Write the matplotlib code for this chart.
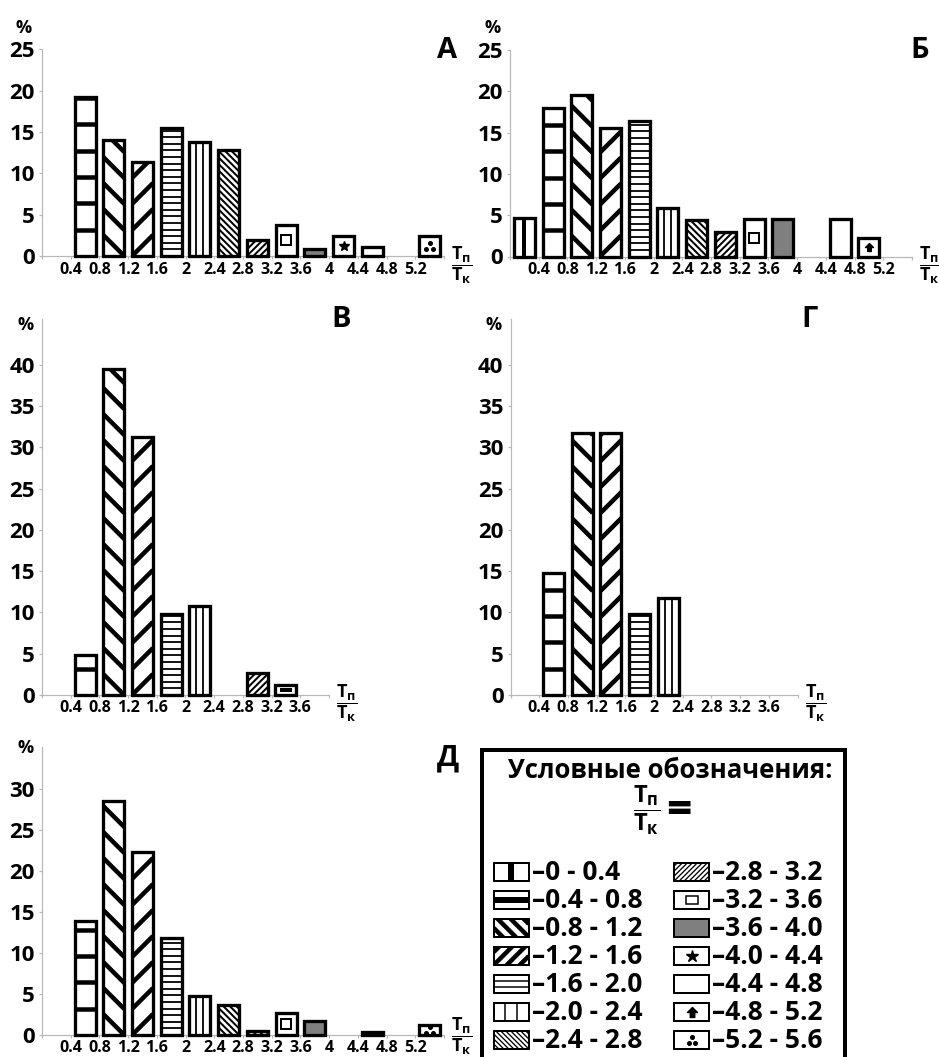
import matplotlib
matplotlib.use('Agg')
import matplotlib.pyplot as plt
from matplotlib.patches import Rectangle
from matplotlib.lines import Line2D
from matplotlib.path import Path
import numpy as np

plt.rcParams['font.family'] = ['Open Sans', 'DejaVu Sans']
plt.rcParams['font.weight'] = 'bold'
plt.rcParams['mathtext.fontset'] = 'custom'
plt.rcParams['mathtext.rm'] = 'Open Sans:bold'
plt.rcParams['mathtext.it'] = 'Open Sans:bold'
plt.rcParams['mathtext.bf'] = 'Open Sans:bold'

W, H = 939, 1057
PT = 0.72  # 1 px в пунктах при dpi=100

# интервалы Tп/Tк
ranges = ['0 - 0.4', '0.4 - 0.8', '0.8 - 1.2', '1.2 - 1.6', '1.6 - 2.0', '2.0 - 2.4', '2.4 - 2.8',
          '2.8 - 3.2', '3.2 - 3.6', '3.6 - 4.0', '4.0 - 4.4', '4.4 - 4.8', '4.8 - 5.2', '5.2 - 5.6']
tick_labels = ['0.4', '0.8', '1.2', '1.6', '2', '2.4', '2.8', '3.2', '3.6', '4', '4.4', '4.8', '5.2']

# доли, %
vals_a = [0, 19.2, 14.0, 11.4, 15.5, 13.8, 12.8, 1.9, 3.8, 0.9, 2.4, 1.1, 0, 2.4]
vals_b = [4.7, 18.0, 19.6, 15.5, 16.4, 5.9, 4.4, 3.0, 4.5, 4.5, 0, 4.5, 2.3, 0]
vals_v = [0, 4.9, 39.5, 31.3, 9.8, 10.8, 0, 2.7, 1.2, 0]
vals_g = [0, 14.8, 31.7, 31.7, 9.8, 11.7, 0, 0, 0, 0]
vals_d = [0, 13.9, 28.5, 22.3, 11.8, 4.7, 3.7, 0.5, 2.7, 1.7, 0, 0.4, 0, 1.2]

# штриховка каждого интервала
patterns = ['vbar', 'hthick', 'dthick_b', 'dthick_f', 'hthin', 'vthin', 'dthin_b', 'dthin_f',
            'square', 'gray', 'star', 'none', 'arrow', 'dots']

ARROW = Path([(0, 1), (1, 0), (0.45, 0), (0.45, -1), (-0.45, -1), (-0.45, 0), (-1, 0), (0, 1)],
             [Path.MOVETO] + [Path.LINETO] * 6 + [Path.CLOSEPOLY])

fig = plt.figure(figsize=(W / 100, H / 100), dpi=100)


def ftext(x, y, s, **kw):
    fig.text(x / W, 1 - y / H, s, **kw)


def pattern(ax, kind, x0, y0, w, h, sx, sy, clip, small=False):
    # sx, sy - единиц данных на 1 px
    wp, hp = w / sx, h / sy

    def line(us, vs, lw):
        ln = Line2D([x0 + u * sx for u in us], [y0 + v * sy for v in vs],
                    color='black', lw=lw * PT, solid_capstyle='butt', zorder=3)
        ax.add_line(ln)
        ln.set_clip_path(clip)   # после add_line, иначе axes перезапишет

    def mark(du, dv, **kw):
        ln = Line2D([x0 + (wp / 2 + du) * sx], [y0 + (hp / 2 + dv) * sy], ls='none',
                    color='black', mfc='black', mec='black', zorder=3, **kw)
        ax.add_line(ln)
        ln.set_clip_path(clip)

    if kind == 'vbar':
        line([wp / 2, wp / 2], [-5, hp + 5], 6 if small else 4)
    elif kind == 'hthick':
        levels = [hp / 2] if small else np.arange(26.3, hp, 26.3)
        for v in levels:
            line([-5, wp + 5], [v, v], 6 if small else 4.5)
    elif kind.startswith('dth'):
        thick = 'thick' in kind
        if thick:
            s, lw = (13 if small else 26), 4.5
        else:
            s, lw = (5 if small else 6.5), (1.3 if small else 2)
        for k in range(-int(wp / s) - 2, int(hp / s) + 3):
            if kind.endswith('_b'):
                line([0, wp], [k * s + wp, k * s], lw)
            else:
                line([0, wp], [k * s, k * s + wp], lw)
    elif kind == 'hthin':
        levels = [hp / 3, 2 * hp / 3] if small else np.arange(6.6, hp, 6.6)
        for v in levels:
            line([-5, wp + 5], [v, v], 1.5 if small else 1.8)
    elif kind == 'vthin':
        for u in (wp / 3, 2 * wp / 3):
            line([u, u], [-5, hp + 5], 1.5 if small else 1.8)
    elif kind == 'square':
        qw, qh = (12, 8) if small else (10, max(2, min(10, hp - 8)))
        r = Rectangle((x0 + (wp - qw) / 2 * sx, y0 + (hp - qh) / 2 * sy), qw * sx, qh * sy,
                      fill=False, ec='black', lw=(1.5 if small else 2) * PT, zorder=3)
        ax.add_patch(r)
        r.set_clip_path(clip)
    elif kind == 'star':
        mark(0, 0, marker='*', ms=(12 if small else 10) * PT)
    elif kind == 'arrow':
        mark(0, 0, marker=ARROW, ms=(10 if small else 8) * PT)
    elif kind == 'dots':
        for du, dv in ((0, 2.7), (-3.2, -2.7), (3.2, -2.7)):
            mark(du, dv, marker='o', ms=3.6 * PT)


def panel(box, n, ymax, yticks, vals, letter, letter_pos, pct_pos, frac_dy=9):
    left, right, bottom, top = box
    ax = fig.add_axes([left / W, 1 - bottom / H, (right - left) / W, (bottom - top) / H])
    ax.set_xlim(0, n)
    ax.set_ylim(0, ymax)
    sx = n / (right - left)
    sy = ymax / (bottom - top)

    idx = [i for i in range(n) if vals[i] > 0]
    xs = [i + 0.5 for i in idx]
    hs = [vals[i] for i in idx]
    faces = ['#7f7f7f' if patterns[i] == 'gray' else 'white' for i in idx]
    bw = 0.73
    bars = ax.bar(xs, hs, width=bw, color=faces, edgecolor='none', zorder=2)
    for i, p in zip(idx, bars.patches):
        pattern(ax, patterns[i], i + 0.5 - bw / 2, 0, bw, vals[i], sx, sy, p)
    ax.bar(xs, hs, width=bw, fill=False, edgecolor='black', lw=3.3 * PT, zorder=4, clip_on=False)

    for s in ['top', 'right']:
        ax.spines[s].set_visible(False)
    for s in ['left', 'bottom']:
        ax.spines[s].set_color('#b8b8b8')
        ax.spines[s].set_linewidth(1.2 * PT)
    ax.set_xticks(np.arange(0, n + 1))
    ax.set_xticklabels([''] + tick_labels[:n - 1] + [''])
    ax.set_yticks(yticks)
    ax.tick_params(axis='x', length=3 * PT, width=1.2 * PT, color='#b8b8b8', pad=2.5 * PT, labelsize=11.5)
    ax.tick_params(axis='y', length=3 * PT, width=1.2 * PT, color='#b8b8b8', pad=4 * PT, labelsize=16)
    ax.patch.set_visible(False)

    ftext(right + 18, bottom + frac_dy, r'$\dfrac{T_п}{T_к}$', fontsize=13, ha='center', va='center')
    ftext(pct_pos[0], pct_pos[1], '%', fontsize=13, ha='center', va='baseline')
    ftext(letter_pos[0], letter_pos[1], letter, fontsize=21, ha='center', va='baseline')
    return ax


panel((42, 444, 256, 49.3), 14, 25, range(0, 26, 5), vals_a, 'А', (447.5, 58), (24, 33))
panel((510, 912, 256.5, 50), 14, 25, range(0, 26, 5), vals_b, 'Б', (920, 58), (493, 33))
panel((42, 329, 695, 318.5), 10, 45.6, range(0, 41, 5), vals_v, 'В', (341, 327), (26, 330), 8)
panel((510.5, 797.5, 695, 318.5), 10, 45.6, range(0, 41, 5), vals_g, 'Г', (810, 327), (494, 330), 8)
panel((42, 444, 1035, 746.5), 14, 35.2, range(0, 31, 5), vals_d, 'Д', (448, 765), (26, 753), 1)

# условные обозначения
lax = fig.add_axes([0, 0, 1, 1])
lax.set_xlim(0, W)
lax.set_ylim(0, H)
lax.axis('off')
lax.add_patch(Rectangle((482, -10), 845 - 482, H - 750 + 10, fill=False, ec='black', lw=4 * PT))
ftext(670, 778, 'Условные обозначения:', fontsize=18.5, ha='center', va='baseline')
ftext(647, 810, r'$\dfrac{T_п}{T_к}$', fontsize=17, ha='center', va='center')
ftext(679, 811, '=', fontsize=32, ha='center', va='center')

sw, sh = 35, 18
for k, (lab, kind) in enumerate(zip(ranges, patterns)):
    col, row = divmod(k, 7)
    cx = 511.3 if col == 0 else 691.7
    tx = 532 if col == 0 else 712.5
    yc = 872 + 28 * row
    x0, y0 = cx - sw / 2, H - yc - sh / 2
    face = Rectangle((x0, y0), sw, sh, fc='#7f7f7f' if kind == 'gray' else 'white', ec='none', zorder=2)
    lax.add_patch(face)
    pattern(lax, kind, x0, y0, sw, sh, 1, 1, face, small=True)
    lax.add_patch(Rectangle((x0, y0), sw, sh, fill=False, ec='black', lw=2 * PT, zorder=4))
    ftext(tx, yc + 8.5, '–' + lab, fontsize=19, ha='left', va='baseline')

fig.savefig('out.png', dpi=100, facecolor='white')
